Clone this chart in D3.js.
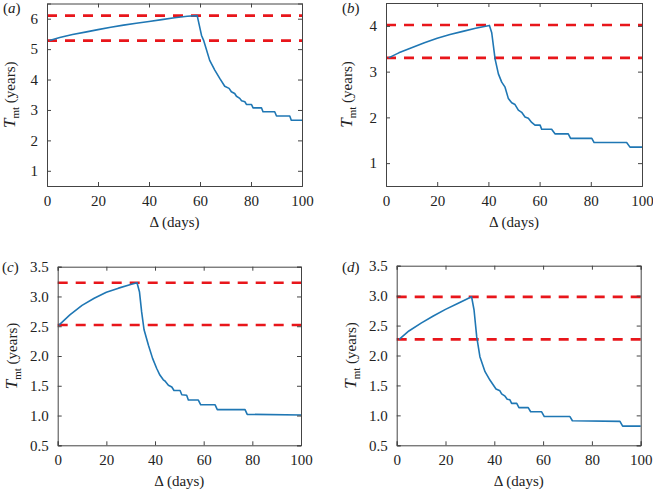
<!DOCTYPE html>
<html><head><meta charset="utf-8">
<script src="https://cdn.jsdelivr.net/npm/d3@7"></script>
<style>
body{margin:0;background:#fff;}
svg text{font-family:"Liberation Serif",serif !important;fill:#222;}
</style></head>
<body><svg id="c" width="653" height="491"></svg>
<script>
// ---- data ----
const xTicks = [0, 20, 40, 60, 80, 100];

const aX = [1, 5, 10, 15, 20, 25, 30, 35, 40, 45, 50, 55, 58.9, 60.6, 61.5, 63.8, 65.8, 67.8, 69.7, 71.4, 72.3, 73.6, 74.3, 75.6, 76.3, 77.6, 78.2, 80.2, 80.8, 84.1, 84.7, 89.3, 90, 95.2, 95.8, 100];
const aY = [5.28, 5.38, 5.48, 5.56, 5.64, 5.72, 5.79, 5.85, 5.91, 5.97, 6.03, 6.08, 6.1, 5.45, 5.27, 4.63, 4.31, 4.03, 3.78, 3.71, 3.6, 3.54, 3.45, 3.38, 3.3, 3.27, 3.18, 3.18, 3.07, 3.07, 2.94, 2.94, 2.8, 2.8, 2.66, 2.66];
const aRef = [6.1, 5.28];
const aYTicks = [1, 2, 3, 4, 5, 6];

const bX = [1, 5, 10, 15, 20, 25, 30, 35, 40.4, 41.3, 42.6, 43.9, 45.2, 46.5, 47.8, 49.1, 50.4, 51.7, 53, 54.3, 55.6, 56.9, 58.2, 60.2, 60.8, 64.7, 66, 71.2, 72.1, 80.4, 81.3, 94, 95.3, 100];
const bY = [3.3, 3.41, 3.52, 3.63, 3.73, 3.81, 3.88, 3.95, 4.01, 3.85, 3.28, 2.95, 2.77, 2.66, 2.41, 2.32, 2.28, 2.16, 2.11, 2.01, 1.98, 1.89, 1.83, 1.83, 1.74, 1.74, 1.64, 1.64, 1.54, 1.54, 1.45, 1.45, 1.35, 1.35];
const bRef = [4.02, 3.3];
const bYTicks = [1, 2, 3, 4];

const cX = [0.5, 5, 10, 15, 20, 25, 30, 32.6, 33.6, 34.5, 35.5, 37.3, 39, 40.7, 42, 43.4, 44.1, 45.5, 46.9, 47.8, 50.3, 51, 53, 53.7, 57.8, 58.8, 64.7, 65.6, 77, 77.9, 100];
const cY = [2.52, 2.69, 2.85, 2.97, 3.07, 3.14, 3.2, 3.23, 3.08, 2.74, 2.44, 2.18, 1.96, 1.79, 1.68, 1.6, 1.58, 1.51, 1.48, 1.42, 1.42, 1.35, 1.34, 1.26, 1.26, 1.18, 1.18, 1.1, 1.1, 1.02, 1.01];
const cRef = [3.23, 2.52];
const cYTicks = [0.5, 1.0, 1.5, 2.0, 2.5, 3.0, 3.5];

const dX = [1, 5, 10, 15, 20, 25, 30.7, 31.7, 32.8, 34.1, 36.2, 38.2, 40.7, 42.3, 43, 44.4, 45.3, 46.4, 47.1, 49.2, 50.1, 53.9, 54.9, 59.4, 60.5, 71, 72, 91.5, 92.6, 100];
const dY = [2.27, 2.41, 2.54, 2.66, 2.77, 2.87, 2.98, 2.76, 2.31, 1.98, 1.73, 1.59, 1.44, 1.41, 1.36, 1.32, 1.27, 1.26, 1.2, 1.2, 1.13, 1.13, 1.06, 1.06, 0.98, 0.98, 0.91, 0.9, 0.82, 0.82];
const dRef = [2.98, 2.27];
const dYTicks = cYTicks;

const panelLabels = ["a", "b", "c", "d"];

// ---- layout ----
const svg = d3.select("#c");
const FONT = "'Liberation Serif', serif";
const panels = [
  {lab: panelLabels[0], xs: aX, ys: aY, ref: aRef, yt: aYTicks, ydom: [0.5, 6.5], fmt: d3.format("d"),
   l: 47, r: 302, t: 3.5, b: 186, yl: 10, lx: 3, ly: 13},
  {lab: panelLabels[1], xs: bX, ys: bY, ref: bRef, yt: bYTicks, ydom: [0.5, 4.5], fmt: d3.format("d"),
   l: 386, r: 642, t: 3, b: 186, yl: 347, lx: 342, ly: 13},
  {lab: panelLabels[2], xs: cX, ys: cY, ref: cRef, yt: cYTicks, ydom: [0.5, 3.5], fmt: d3.format(".1f"),
   l: 57.7, r: 301, t: 266.7, b: 445.3, yl: 12, lx: 2, ly: 272},
  {lab: panelLabels[3], xs: dX, ys: dY, ref: dRef, yt: dYTicks, ydom: [0.5, 3.5], fmt: d3.format(".1f"),
   l: 396.7, r: 640.7, t: 265.7, b: 445.3, yl: 351, lx: 342, ly: 272}
];

const axisCol = "#444";
panels.forEach(p => {
  const x = d3.scaleLinear().domain([0, 100]).range([p.l, p.r]);
  const y = d3.scaleLinear().domain(p.ydom).range([p.b, p.t]);
  const g = svg.append("g").style("font-family", FONT);

  p.ref.forEach(v => {
    g.append("line").attr("x1", x(0)).attr("x2", x(100)).attr("y1", y(v)).attr("y2", y(v))
      .attr("stroke", "#e8161b").attr("stroke-width", 2.6).attr("stroke-dasharray", "10,8");
  });

  const data = p.xs.map((v, i) => [v, p.ys[i]]);
  g.append("path").datum(data)
    .attr("d", d3.line().x(d => x(d[0])).y(d => y(d[1])))
    .attr("fill", "none").attr("stroke", "#1f77b4").attr("stroke-width", 1.6)
    .attr("stroke-linejoin", "round");

  const ax = [
    {a: d3.axisBottom(x).tickValues(xTicks).tickSize(-4).tickPadding(9), tr: `translate(0,${p.b})`, lbl: true},
    {a: d3.axisTop(x).tickValues(xTicks).tickSize(-4), tr: `translate(0,${p.t})`, lbl: false},
    {a: d3.axisLeft(y).tickValues(p.yt).tickSize(-4).tickPadding(9).tickFormat(p.fmt), tr: `translate(${p.l},0)`, lbl: true},
    {a: d3.axisRight(y).tickValues(p.yt).tickSize(-4), tr: `translate(${p.r},0)`, lbl: false}
  ];
  ax.forEach(o => {
    const ag = g.append("g").attr("transform", o.tr).call(o.a).attr("font-family", null);
    ag.select(".domain").attr("stroke", axisCol).attr("stroke-width", 1);
    ag.selectAll(".tick line").attr("stroke", axisCol);
    if (!o.lbl) ag.selectAll(".tick text").remove();
    else ag.selectAll(".tick text").attr("font-size", 15).attr("fill", "#222").style("font-family", FONT);
  });

  g.append("text").attr("x", (p.l + p.r) / 2).attr("y", p.b + 41)
    .attr("text-anchor", "middle").attr("font-size", 15).text("Δ (days)");

  const yt = g.append("text").attr("transform", `translate(${p.yl},${(p.t + p.b) / 2}) rotate(-90)`)
    .attr("text-anchor", "middle").attr("dy", "0.35em").attr("font-size", 15);
  yt.append("tspan").attr("font-style", "italic").attr("font-size", 17).text("T");
  yt.append("tspan").attr("font-size", 11).attr("dy", 4).text("mt");
  yt.append("tspan").attr("dy", -4).text(" (years)");

  const pl = svg.append("text").attr("x", p.lx).attr("y", p.ly).attr("font-size", 15).style("font-family", FONT);
  pl.append("tspan").text("(");
  pl.append("tspan").attr("font-style", "italic").text(p.lab);
  pl.append("tspan").text(")");
});
</script></body></html>
